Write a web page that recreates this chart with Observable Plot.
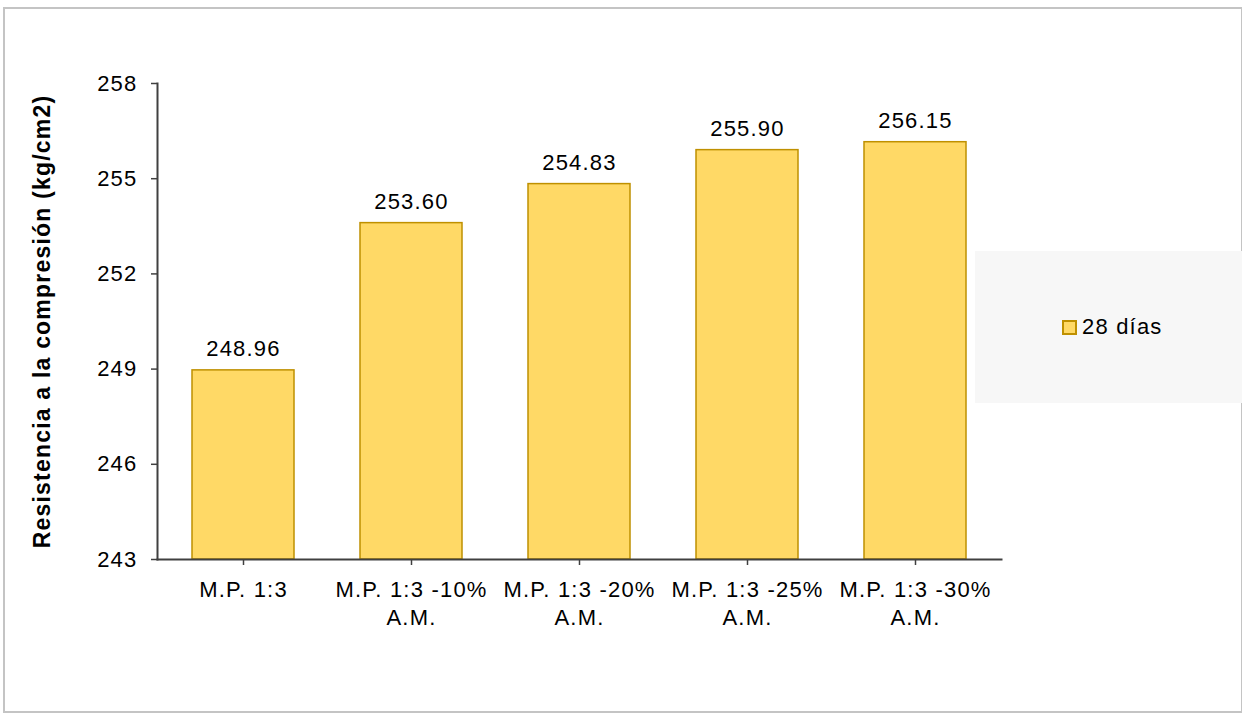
<!DOCTYPE html>
<html>
<head>
<meta charset="utf-8">
<script src="https://cdn.jsdelivr.net/npm/d3@7"></script>
<script src="https://cdn.jsdelivr.net/npm/@observablehq/plot@0.6"></script>
<style>
  body { margin: 0; background: #fff; font-family: "Liberation Sans", Arial, sans-serif; }
  #wrap { position: relative; width: 1242px; height: 714px; overflow: hidden; }
  #frame { position: absolute; left: 3px; top: 7px; width: 1240px; height: 706px; border: 2px solid #c4c4c4; box-sizing: border-box; }
  #legend { position: absolute; left: 975px; top: 251px; width: 267px; height: 152px; background: #f7f7f7;
            display: flex; align-items: center; }
  #legend .item { margin-left: 87px; display: flex; align-items: center; font-size: 22px; letter-spacing: 1.2px; color: #000; }
  #legend .sw { width: 11px; height: 11px; background: #FFD966; border: 2px solid #BF9000; margin-right: 5px; }
  #chart { position: absolute; left: 0; top: 0; }
</style>
</head>
<body>
<div id="wrap">
  <div id="frame"></div>
  <div id="legend"><div class="item"><div class="sw"></div><span id="legText"></span></div></div>
  <div id="chart"></div>
</div>
<script>
const categories = ["M.P. 1:3", "M.P. 1:3 -10%\nA.M.", "M.P. 1:3 -20%\nA.M.", "M.P. 1:3 -25%\nA.M.", "M.P. 1:3 -30%\nA.M."];
const values = [248.96, 253.60, 254.83, 255.90, 256.15];
const yTicks = [243, 246, 249, 252, 255, 258];
const seriesName = "28 días";
const yLabel = "Resistencia a la compresión (kg/cm2)";

document.getElementById("legText").textContent = seriesName;

const data = categories.map((c, i) => ({cat: c, value: values[i], base: yTicks[0]}));

const chart = Plot.plot({
  width: 1242,
  height: 714,
  marginLeft: 157,
  marginRight: 241,
  marginTop: 83,
  marginBottom: 155,
  style: {fontFamily: "'Liberation Sans', Arial, sans-serif", fontSize: "22px", letterSpacing: "1.2px", color: "#000", background: "transparent"},
  x: {domain: categories, paddingInner: 0.39, paddingOuter: 0.195, label: null},
  y: {domain: [yTicks[0], yTicks[yTicks.length - 1]], label: null},
  marks: [
    Plot.barY(data, {x: "cat", y1: "base", y2: "value", fill: "#FFD966", stroke: "#BF9000", strokeWidth: 1.5}),
    Plot.text(data, {x: "cat", y: "value", text: d => d.value.toFixed(2), dy: -21, fontSize: 22, fill: "#000"}),
    Plot.axisY({ticks: yTicks, tickSize: 6, tickPadding: 14, tickFormat: d => String(d), fontSize: 22, stroke: "#404040", strokeWidth: 1.5, fill: "#000"}),
    Plot.frame({anchor: "left", stroke: "#404040", strokeWidth: 2}),
    Plot.axisX({tickSize: 6, tickPadding: 12, fontSize: 22, lineHeight: 1.27, stroke: "#404040", strokeWidth: 1.5, fill: "#000"}),
    Plot.frame({anchor: "bottom", stroke: "#404040", strokeWidth: 2}),
    Plot.text([yLabel], {frameAnchor: "left", dx: -115, rotate: -90, textAnchor: "middle", fontSize: 23, letterSpacing: "1.5px", fontWeight: "bold", fill: "#000"})
  ]
});
document.getElementById("chart").appendChild(chart);
</script>
</body>
</html>
